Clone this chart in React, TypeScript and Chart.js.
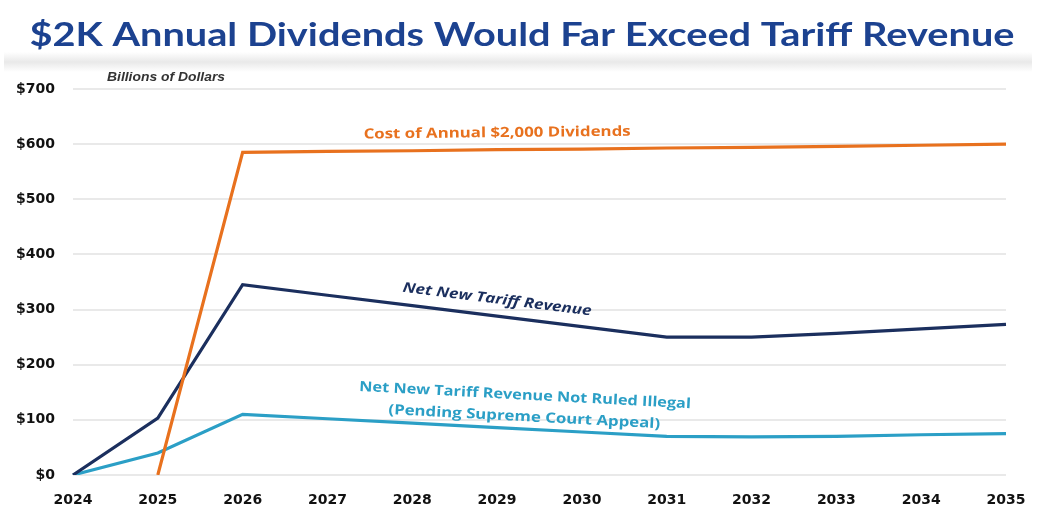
import React, { useEffect, useRef } from "react";
import { Chart, registerables } from "chart.js";

Chart.register(...registerables);

const years = ["2024", "2025", "2026", "2027", "2028", "2029", "2030", "2031", "2032", "2033", "2034", "2035"];
const dividendCost = [null, 0, 585, 587, 588, 590, 591, 593, 594, 596, 598, 600];
const netTariff = [0, 103, 345, 326, 307, 288, 269, 250, 250, 257, 265, 273];
const netTariffLegal = [0, 40, 110, 102, 94, 86, 78, 70, 69, 70, 73, 75];
const yTicks = [0, 100, 200, 300, 400, 500, 600, 700];

const titleText = "$2K Annual Dividends Would Far Exceed Tariff Revenue";
const unitText = "Billions of Dollars";
const labelCost = "Cost of Annual $2,000 Dividends";
const labelNet = "Net New Tariff Revenue";
const labelLegal1 = "Net New Tariff Revenue Not Ruled Illegal";
const labelLegal2 = "(Pending Supreme Court Appeal)";

const ORANGE = "#e8711e";
const NAVY = "#1b2f5e";
const LIGHTBLUE = "#2b9fc6";

function drawFitText(ctx: CanvasRenderingContext2D, text: string, cx: number, cy: number, font: string, color: string, width: number, angleDeg = 0) {
  ctx.save();
  ctx.font = font;
  ctx.fillStyle = color;
  ctx.textAlign = "center";
  ctx.textBaseline = "middle";
  const w = ctx.measureText(text).width;
  ctx.translate(cx, cy);
  ctx.rotate((angleDeg * Math.PI) / 180);
  ctx.scale(width / w, 1);
  ctx.fillText(text, 0, 0);
  ctx.restore();
}

const decorPlugin = {
  id: "decor",
  beforeDraw(chart: any) {
    const ctx = chart.ctx as CanvasRenderingContext2D;
    ctx.save();
    ctx.fillStyle = "#ffffff";
    ctx.fillRect(0, 0, chart.width, chart.height);
    const g = ctx.createLinearGradient(0, 52, 0, 72);
    g.addColorStop(0, "#ffffff");
    g.addColorStop(0.5, "#e9e9e9");
    g.addColorStop(1, "#ffffff");
    ctx.fillStyle = g;
    ctx.fillRect(4, 52, 1028, 20);
    ctx.restore();
    drawFitText(ctx, titleText, 522, 36, "bold 32px Lato", "#1c4290", 985);
    drawFitText(ctx, unitText, 166, 77, "italic bold 13px 'Liberation Sans'", "#333333", 118);
  },
  afterDatasetsDraw(chart: any) {
    const ctx = chart.ctx as CanvasRenderingContext2D;
    const x = chart.scales.x;
    const y = chart.scales.y;
    const px = (i: number) => x.getPixelForValue(i);
    drawFitText(ctx, labelCost, px(5.0), y.getPixelForValue(620), "bold 14px 'Open Sans'", ORANGE, 267, -0.6);
    drawFitText(ctx, labelNet, px(5.0), y.getPixelForValue(318), "bold italic 14px 'Open Sans'", NAVY, 190, 7.2);
    drawFitText(ctx, labelLegal1, px(5.33), y.getPixelForValue(144), "bold 14px 'Open Sans'", LIGHTBLUE, 332, 3);
    drawFitText(ctx, labelLegal2, px(5.32), y.getPixelForValue(105), "bold 14px 'Open Sans'", LIGHTBLUE, 272, 3);
  },
};

export default function App() {
  const ref = useRef<HTMLCanvasElement | null>(null);
  useEffect(() => {
    document.body.style.margin = "0";
    const canvas = ref.current!;
    const chart = new Chart(canvas, {
      type: "line",
      data: {
        labels: years,
        datasets: [
          { label: labelCost, data: dividendCost as any, borderColor: ORANGE, borderWidth: 3.2, pointRadius: 0, tension: 0 },
          { label: labelNet, data: netTariff, borderColor: NAVY, borderWidth: 3.2, pointRadius: 0, tension: 0 },
          { label: labelLegal1, data: netTariffLegal, borderColor: LIGHTBLUE, borderWidth: 3.2, pointRadius: 0, tension: 0 },
        ],
      },
      options: {
        animation: false,
        responsive: false,
        devicePixelRatio: 1,
        layout: { padding: { top: 89, right: 50, bottom: 0, left: 0 } },
        plugins: { legend: { display: false }, title: { display: false }, tooltip: { enabled: false } },
        scales: {
          x: {
            offset: false,
            grid: { display: false },
            border: { display: false },
            ticks: { color: "#111111", font: { family: "DejaVu Sans", weight: "bold", size: 14 }, padding: 9, maxRotation: 0, autoSkip: false },
            afterFit(scale: any) { scale.height = 35; },
          },
          y: {
            min: 0,
            max: 700,
            afterBuildTicks(scale: any) { scale.ticks = yTicks.map((v) => ({ value: v })); },
            grid: { color: "#e9e9e9", lineWidth: 2, drawTicks: false },
            border: { display: false },
            ticks: {
              color: "#111111",
              font: { family: "DejaVu Sans", weight: "bold", size: 14 },
              padding: 18,
              callback: (v: any) => "$" + v,
            },
            afterFit(scale: any) { scale.width = 73; },
          },
        },
      },
      plugins: [decorPlugin],
    });
    return () => chart.destroy();
  }, []);
  return <canvas ref={ref} width={1056} height={510} style={{ display: "block", width: 1056, height: 510 }} />;
}
